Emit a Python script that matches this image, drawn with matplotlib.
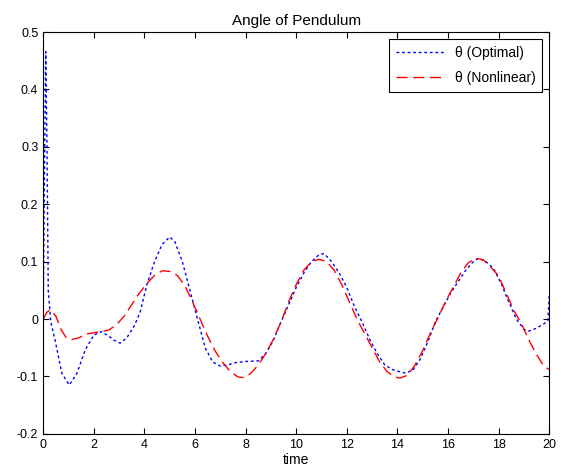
import numpy as np
import matplotlib
matplotlib.use('Agg')
import matplotlib.pyplot as plt

plt.rcParams['font.family'] = ['Liberation Sans', 'DejaVu Sans']

# Valores
t_opt = [0, 0.05, 0.1, 0.15, 0.2, 0.3, 0.47, 0.74, 1.03, 1.33, 1.66, 2.0, 2.3, 2.6, 2.8, 3.04,
         3.3, 3.6, 3.83, 4.1, 4.4, 4.7, 5.0, 5.2, 5.5, 5.8, 6.1, 6.4, 6.7, 7.0, 7.3, 7.6,
         8.0, 8.5, 8.8, 9.1, 9.4, 9.7, 10.0, 10.3, 10.6, 10.9, 11.1, 11.4, 11.7, 12.0,
         12.3, 12.6, 12.9, 13.2, 13.5, 13.8, 14.1, 14.3, 14.6, 14.9, 15.2, 15.5, 15.8,
         16.1, 16.4, 16.7, 17.0, 17.2, 17.5, 17.8, 18.1, 18.4, 18.7, 19.0, 19.2, 19.5,
         19.8, 19.95, 20.0]
theta_opt = [0.0, 0.25, 0.466, 0.30, 0.05, -0.005, -0.037, -0.095, -0.115, -0.095, -0.054,
             -0.028, -0.022, -0.03, -0.037, -0.042, -0.033, -0.012, 0.012, 0.06, 0.10,
             0.13, 0.143, 0.135, 0.10, 0.05, 0.0, -0.05, -0.075, -0.082, -0.08, -0.076,
             -0.074, -0.073, -0.06, -0.037, -0.005, 0.025, 0.055, 0.08, 0.10, 0.112,
             0.114, 0.10, 0.08, 0.055, 0.022, -0.005, -0.035, -0.06, -0.08, -0.088,
             -0.092, -0.094, -0.09, -0.07, -0.04, -0.005, 0.02, 0.045, 0.065, 0.085,
             0.10, 0.106, 0.10, 0.088, 0.062, 0.03, 0.0, -0.018, -0.021, -0.016,
             -0.008, -0.003, 0.04]

t_nl = [0, 0.15, 0.28, 0.5, 0.7, 0.9, 1.1, 1.4, 1.7, 2.0, 2.3, 2.6, 2.9, 3.2, 3.5, 3.8,
        4.1, 4.4, 4.7, 5.0, 5.3, 5.6, 5.9, 6.2, 6.5, 6.8, 7.1, 7.4, 7.7, 7.9, 8.2, 8.5,
        8.8, 9.1, 9.4, 9.7, 10.0, 10.3, 10.6, 10.9, 11.2, 11.5, 11.8, 12.1, 12.4, 12.7,
        13.0, 13.3, 13.6, 13.9, 14.1, 14.4, 14.7, 15.0, 15.3, 15.6, 15.9, 16.2, 16.5,
        16.8, 17.1, 17.4, 17.7, 18.0, 18.3, 18.6, 18.9, 19.2, 19.5, 19.8, 20.0]
theta_nl = [0.0, 0.012, 0.016, 0.005, -0.018, -0.032, -0.036, -0.033, -0.026, -0.024,
            -0.022, -0.019, -0.01, 0.005, 0.025, 0.045, 0.062, 0.076, 0.084, 0.083,
            0.076, 0.058, 0.03, 0.0, -0.03, -0.056, -0.076, -0.092, -0.101, -0.102,
            -0.095, -0.08, -0.06, -0.035, -0.005, 0.03, 0.06, 0.085, 0.10, 0.104, 0.10,
            0.085, 0.06, 0.03, 0.0, -0.025, -0.05, -0.075, -0.092, -0.101, -0.103,
            -0.098, -0.08, -0.055, -0.025, 0.002, 0.03, 0.055, 0.08, 0.098, 0.106,
            0.103, 0.09, 0.075, 0.045, 0.015, -0.008, -0.037, -0.062, -0.083, -0.088]

x_ticks = list(range(0, 21, 2))
y_ticks = [-0.2, -0.1, 0, 0.1, 0.2, 0.3, 0.4, 0.5]
y_labels = ['-0.2', '-0.1', '0', '0.1', '0.2', '0.3', '0.4', '0.5']

fig = plt.figure(figsize=(5.61, 4.72), dpi=100)
ax = fig.add_axes([0.077, 0.081, 0.902, 0.851])

ax.plot(t_opt, theta_opt, color='blue', linestyle=(0, (2, 2)), linewidth=1.0,
        label='θ (Optimal)')
ax.plot(t_nl, theta_nl, color='red', linestyle=(0, (8, 4)), linewidth=1.0,
        label='θ (Nonlinear)')

ax.set_xlim(0, 20)
ax.set_ylim(-0.2, 0.5)
ax.set_xticks(x_ticks)
ax.set_yticks(y_ticks)
ax.set_yticklabels(y_labels)
ax.tick_params(direction='in', top=True, right=True, labelsize=9, length=4)
ax.set_xlabel('time', fontsize=10, labelpad=2)
ax.set_title('Angle of Pendulum', fontsize=11, pad=5)

leg = ax.legend(loc='upper right', fontsize=10, fancybox=False, framealpha=1,
                edgecolor='black', handlelength=3.6, labelspacing=0.8,
                borderpad=0.5, handletextpad=0.6, borderaxespad=0.5)
leg.get_frame().set_linewidth(0.8)

plt.savefig('out.png', dpi=100)
plt.close()
